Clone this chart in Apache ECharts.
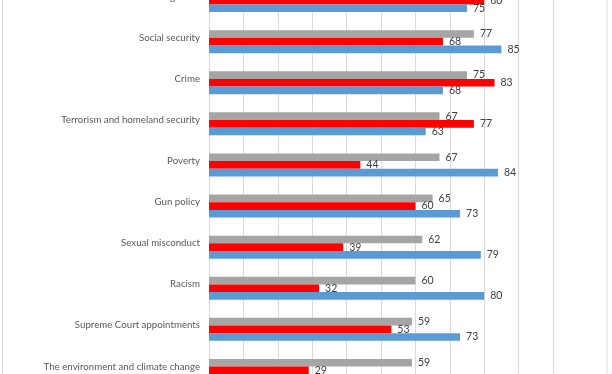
<!DOCTYPE html>
<html>
<head>
<meta charset="utf-8">
<style>html,body{margin:0;padding:0;background:#fff;overflow:hidden;width:612px;height:374px;}#c{position:absolute;left:0;top:-20px;width:612px;height:430px;}</style>
<script src="https://cdn.jsdelivr.net/npm/echarts@6/dist/echarts.min.js"></script>
</head>
<body>
<div id="c"></div>
<script>
var categories = ["Immigration", "Social security", "Crime", "Terrorism and homeland security", "Poverty", "Gun policy", "Sexual misconduct", "Racism", "Supreme Court appointments", "The environment and climate change"];
var totalValues = [78, 77, 75, 67, 67, 65, 62, 60, 59, 59];
var repValues = [80, 68, 83, 77, 44, 60, 39, 32, 53, 29];
var demValues = [75, 85, 68, 63, 84, 73, 79, 80, 73, 83];

var chart = echarts.init(document.getElementById('c'), null, {renderer: 'canvas'});
var lbl = {show: true, position: 'right', distance: 6, color: '#404040', fontSize: 10.5, fontFamily: 'Lato'};
function s(name, data, color) {
  return {name: name, type: 'bar', data: data, itemStyle: {color: color}, label: lbl,
          barGap: '0%', barCategoryGap: '44%', animation: false};
}
chart.setOption({
  animation: false,
  graphic: [{type: 'rect', shape: {x: 2.5, y: 5, width: 604.5, height: 420},
             style: {fill: 'none', stroke: '#d9d9d9', lineWidth: 1}, silent: true}],
  grid: {left: 209, right: 59, top: 0, height: 411, containLabel: false},
  xAxis: {type: 'value', min: 0, max: 100, interval: 10,
          axisLabel: {show: false}, axisLine: {show: false}, axisTick: {show: false},
          splitLine: {show: true, lineStyle: {color: '#d9d9d9', width: 1}}},
  yAxis: {type: 'category', data: categories, inverse: true,
          axisLine: {show: true, lineStyle: {color: '#d9d9d9'}}, axisTick: {show: false},
          axisLabel: {color: '#595959', fontSize: 9.7, fontFamily: 'Lato', margin: 9,
                      verticalAlign: 'bottom', lineHeight: 8}},
  series: [s('Total', totalValues, '#A5A5A5'), s('Rep', repValues, '#FF0000'), s('Dem', demValues, '#5B9BD5')]
});
</script>
</body>
</html>
